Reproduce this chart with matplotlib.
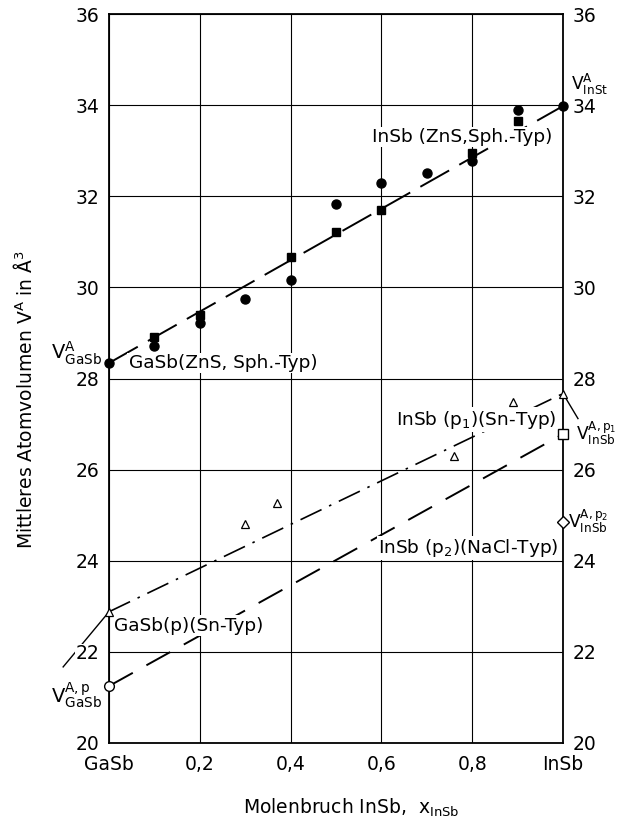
"""
Mittleres Atomvolumen im System GaSb-InSb (ZnS- und Sn-Typ)
"""

import matplotlib
matplotlib.use("Agg")
import matplotlib.pyplot as plt

plt.rcParams['font.family'] = ['DejaVu Sans']
plt.rcParams['mathtext.default'] = 'regular'

# ZnS (Sphalerit) Messpunkte
x_zns_circ = [0.0, 0.1, 0.2, 0.3, 0.4, 0.5, 0.6, 0.7, 0.8, 0.9, 1.0]
y_zns_circ = [28.34, 28.72, 29.22, 29.74, 30.16, 31.83, 32.29, 32.50, 32.78, 33.89, 33.98]
x_zns_sq = [0.1, 0.2, 0.4, 0.5, 0.6, 0.8, 0.9]
y_zns_sq = [28.90, 29.39, 30.67, 31.21, 31.70, 32.96, 33.66]

# Sn-Typ Messpunkte (offene Dreiecke)
x_sn_tri = [0.0, 0.30, 0.37, 0.76, 0.89, 1.0]
y_sn_tri = [22.88, 24.80, 25.26, 26.31, 27.49, 27.67]

# Geraden
x_ends = [0.0, 1.0]
y_zns_line = [28.34, 33.98]
y_sn_line = [22.88, 27.67]
y_nacl_line = [21.25, 26.78]

# Einzelpunkte
gasb_p = (0.0, 21.25)
insb_p1 = (1.0, 26.78)
insb_p2 = (1.0, 24.86)

yticks = [20, 22, 24, 26, 28, 30, 32, 34, 36]
xticks = [0.0, 0.2, 0.4, 0.6, 0.8, 1.0]
xtick_labels = ['GaSb', '0,2', '0,4', '0,6', '0,8', 'InSb']

fig = plt.figure(figsize=(6.18, 8.26), dpi=100)
ax = fig.add_axes([109/618, 1 - 743/826, (563 - 109)/618, (743 - 14)/826])

ax.set_xlim(0, 1)
ax.set_ylim(20, 36)
ax.set_xticks(xticks)
ax.set_xticklabels(xtick_labels)
ax.set_yticks(yticks)
ax.grid(True, color='black', linewidth=0.8)
ax.tick_params(length=0, labelsize=13.5, labelright=True)
ax.tick_params(axis='y', pad=7)
ax.tick_params(axis='x', pad=9)
for sp in ax.spines.values():
    sp.set_linewidth(1.3)
for t in ax.get_yticklabels():
    t.set_bbox(dict(facecolor='white', edgecolor='none', pad=0.5))

# Linien
ax.plot(x_ends, y_zns_line, color='black', lw=1.4, dashes=(17, 6), zorder=3)
ax.plot(x_ends, y_sn_line, color='black', lw=1.2, dashes=(14, 5, 1.5, 5), zorder=3)
ax.plot(x_ends, y_nacl_line, color='black', lw=1.4, dashes=(14, 8), zorder=3)

# Punkte
ax.plot(x_zns_circ, y_zns_circ, 'o', color='black', ms=6.5, clip_on=False, zorder=5)
ax.plot(x_zns_sq, y_zns_sq, 's', color='black', ms=6, clip_on=False, zorder=5)
ax.plot(x_sn_tri, y_sn_tri, '^', mfc='white', mec='black', mew=0.9, ms=6,
        clip_on=False, zorder=5)
ax.plot(*gasb_p, 'o', mfc='white', mec='black', mew=1.0, ms=7, clip_on=False, zorder=5)
ax.plot(*insb_p1, 's', mfc='white', mec='black', mew=1.0, ms=7, clip_on=False, zorder=5)
ax.plot(*insb_p2, 'D', mfc='white', mec='black', mew=1.0, ms=6.5, clip_on=False, zorder=5)

# Hinweislinien
ax.plot([0.0, -0.101], [22.88, 21.67], color='black', lw=1.0, clip_on=False, zorder=1)
ax.plot([1.0, 1.033], [27.67, 27.12], color='black', lw=1.0, clip_on=False, zorder=4)

box = dict(facecolor='white', edgecolor='none', pad=1.0)
fs = 13.3
fsv = 14
fsr = 12.3

ax.text(0.044, 28.34, 'GaSb(ZnS, Sph.-Typ)', fontsize=fs, ha='left', va='center',
        bbox=box, zorder=4)
ax.text(0.976, 33.30, 'InSb (ZnS,Sph.-Typ)', fontsize=fs, ha='right', va='center',
        bbox=box, zorder=4)
ax.text(0.987, 27.09, 'InSb (p$_1$)(Sn-Typ)', fontsize=fs, ha='right', va='center',
        bbox=box, zorder=4)
ax.text(0.99, 24.28, 'InSb (p$_2$)(NaCl-Typ)', fontsize=fs, ha='right', va='center',
        bbox=box, zorder=4)
ax.text(0.012, 22.57, 'GaSb(p)(Sn-Typ)', fontsize=fs, ha='left', va='center',
        bbox=box, zorder=4)

ax.text(-0.016, 28.55, r'$V^{A}_{GaSb}$', fontsize=fsv, ha='right', va='center',
        clip_on=False)
ax.text(-0.016, 21.05, r'$V^{A,p}_{GaSb}$', fontsize=fsv, ha='right', va='center',
        clip_on=False)
ax.text(1.018, 34.45, r'$V^{A}_{InSt}$', fontsize=fsr, ha='left', va='center',
        clip_on=False)
ax.text(1.028, 26.80, r'$V^{A,p_1}_{InSb}$', fontsize=fsr, ha='left', va='center',
        clip_on=False)
ax.text(1.01, 24.87, r'$V^{A,p_2}_{InSb}$', fontsize=fsr, ha='left', va='center',
        clip_on=False)

fig.text(25/618, 1 - 400/826, r'Mittleres Atomvolumen V$^{A}$ in Å$^{3}$',
         rotation=90, ha='center', va='center', fontsize=13.5)
fig.text(351/618, 1 - 808/826, r'Molenbruch InSb,  x$_{InSb}$',
         ha='center', va='center', fontsize=13.5)

fig.savefig('out.png', dpi=100)
